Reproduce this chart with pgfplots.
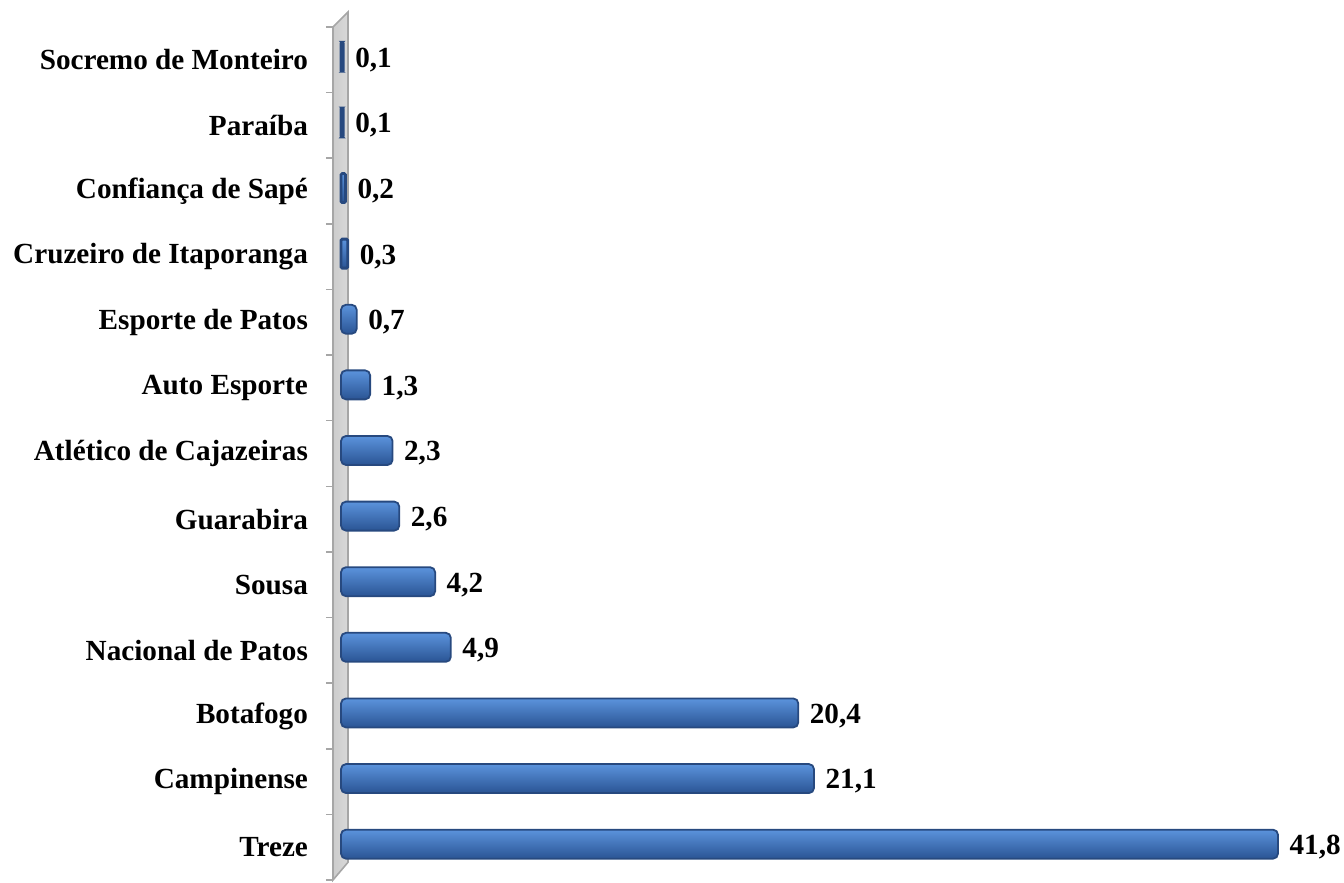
\documentclass[border=0pt]{standalone}
\usepackage{fontspec}
\setmainfont{Liberation Serif}
\usepackage{pgfplots}
\pgfplotsset{compat=1.18}
\definecolor{barTop}{HTML}{5B93DC}
\definecolor{barMid}{HTML}{3B70C0}
\definecolor{barBot}{HTML}{2A5494}
\definecolor{barEdge}{HTML}{27497F}
\pgfplotsset{
  mybar/.style={draw=barEdge, line width=0.9pt, top color=barTop, middle color=barMid, bottom color=barBot, rounded corners=2.5pt, bar shift=1.5pt},
  smallbar/.style={draw=barEdge, line width=1.4pt, top color=barTop, middle color=barMid, bottom color=barBot, rounded corners=0.6pt, bar shift=1.5pt}
}
\begin{document}
\begin{tikzpicture}
\useasboundingbox (0,0) rectangle (672pt,441.5pt);
\begin{axis}[
  at={(166.5pt,1.5pt)}, anchor=south west,
  scale only axis, width=472.5pt, height=426.5pt,
  xmin=-0.357, xmax=41.8, ymin=-0.5, ymax=12.5,
  clip=false,
  axis x line=none,
  axis y line*=left,
  axis line style={draw=gray!70, line width=0.8pt},
  ytick={0,...,12},
  yticklabels={Treze,Campinense,Botafogo,Nacional de Patos,Sousa,Guarabira,Atlético de Cajazeiras,Auto Esporte,Esporte de Patos,Cruzeiro de Itaporanga,Confiança de Sapé,Paraíba,Socremo de Monteiro},
  major tick length=0pt,
  minor ytick={-0.5,0.5,...,12.5},
  minor tick length=3.5pt,
  tick align=outside,
  minor tick style={draw=gray!70, line width=0.8pt},
  yticklabel style={font=\fontsize{14.6}{17}\selectfont\bfseries, xshift=-9pt},
  xbar, bar width=14.5pt,
  nodes near coords,
  nodes near coords style={font=\fontsize{14.6}{17}\selectfont\bfseries, xshift=2pt, yshift=-1.5pt, /pgf/number format/.cd, fixed, fixed zerofill, precision=1, use comma, assume math mode=true},
]
\fill[left color=gray!40, middle color=white, right color=gray!30, draw=gray!70, line width=0.8pt]
  (axis cs:-0.357,12.5) -- (axis cs:0.312,12.73) -- (axis cs:0.312,-0.23) -- (axis cs:-0.357,-0.5) -- cycle;
\addplot[mybar] coordinates {(41.8,0)};
\addplot[mybar] coordinates {(21.1,1)};
\addplot[mybar] coordinates {(20.4,2)};
\addplot[mybar] coordinates {(4.9,3)};
\addplot[mybar] coordinates {(4.2,4)};
\addplot[mybar] coordinates {(2.6,5)};
\addplot[mybar] coordinates {(2.3,6)};
\addplot[mybar] coordinates {(1.3,7)};
\addplot[mybar] coordinates {(0.7,8)};
\addplot[smallbar] coordinates {(0.3,9)};
\addplot[smallbar] coordinates {(0.2,10)};
\addplot[smallbar] coordinates {(0.1,11)};
\addplot[smallbar] coordinates {(0.1,12)};
\end{axis}
\end{tikzpicture}
\end{document}
